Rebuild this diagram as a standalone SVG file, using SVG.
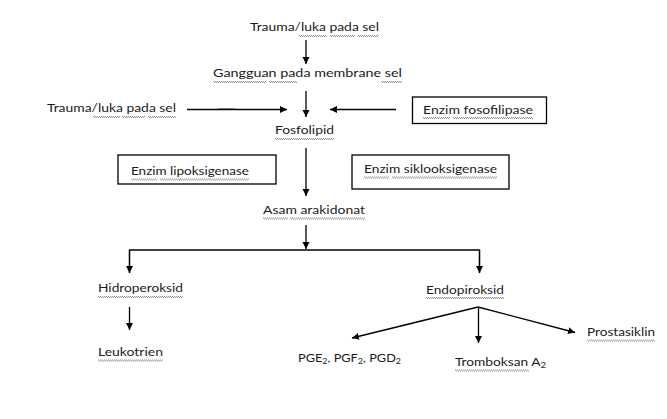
<svg xmlns="http://www.w3.org/2000/svg" width="667" height="419" viewBox="0 0 667 419">
<style>
  text { font-family: Lato, "Noto Sans", "Liberation Sans", sans-serif; font-size: 11.5px; fill: #1a1a1a; }
  .sub { font-size: 8px; }
  .box { fill: #fff; stroke: #000; stroke-width: 1.3; }
  .ln { stroke: #000; stroke-width: 1.3; fill: none; }
  .arr { marker-end: url(#ah); }
  .sqa { stroke: #8a8a8a; stroke-width: 1; stroke-dasharray: 1 1; }
  .sqb { stroke: #8a8a8a; stroke-width: 1; stroke-dasharray: 1 1; stroke-dashoffset: 1; }
</style>
<defs>
  <marker id="ah" markerUnits="userSpaceOnUse" markerWidth="8" markerHeight="8" refX="7" refY="3.5" orient="auto">
    <path d="M0,0 L7,3.5 L0,7 z" fill="#000"/>
  </marker>
</defs>
<rect width="667" height="419" fill="#fff"/>

<g id="connectors">
  <line class="ln arr" x1="306" y1="40" x2="306" y2="64"/>
  <line class="ln arr" x1="306" y1="91" x2="306" y2="117"/>
  <line class="ln arr" x1="187" y1="109.5" x2="287" y2="109.5"/>
  <line class="ln" x1="218" y1="109.3" x2="235" y2="109.3" stroke-width="2.6"/>
  <line class="ln arr" x1="396" y1="109.5" x2="330" y2="109.5"/>
  <line class="ln arr" x1="306" y1="148" x2="306" y2="196"/>
  <line class="ln arr" x1="306" y1="225" x2="306" y2="249"/>
  <polyline class="ln" points="129.5,273 129.5,250 479.5,250 479.5,273"/>
  <line class="ln arr" x1="129.5" y1="250" x2="129.5" y2="273"/>
  <line class="ln arr" x1="479.5" y1="250" x2="479.5" y2="273"/>
  <line class="ln arr" x1="129.5" y1="307" x2="129.5" y2="330"/>
  <line class="ln arr" x1="478" y1="307" x2="352" y2="338"/>
  <line class="ln arr" x1="478.5" y1="307" x2="478.5" y2="343"/>
  <line class="ln arr" x1="478" y1="307" x2="575" y2="332.5"/>
</g>

<g id="n-trauma-top">
  <text x="250" y="31" textLength="129" lengthAdjust="spacingAndGlyphs">Trauma/luka pada sel</text>
  <line class="sqa" x1="299" y1="35.5" x2="327" y2="35.5"/><line class="sqb" x1="299" y1="36.5" x2="327" y2="36.5"/>
  <line class="sqa" x1="330" y1="35.5" x2="355" y2="35.5"/><line class="sqb" x1="330" y1="36.5" x2="355" y2="36.5"/>
  <line class="sqa" x1="358" y1="35.5" x2="379" y2="35.5"/><line class="sqb" x1="358" y1="36.5" x2="379" y2="36.5"/>
</g>

<g id="n-gangguan">
  <text x="213" y="77" textLength="189" lengthAdjust="spacingAndGlyphs">Gangguan pada membrane sel</text>
  <line class="sqa" x1="213" y1="81.5" x2="266" y2="81.5"/><line class="sqb" x1="213" y1="82.5" x2="266" y2="82.5"/>
  <line class="sqa" x1="269" y1="81.5" x2="297" y2="81.5"/><line class="sqb" x1="269" y1="82.5" x2="297" y2="82.5"/>
  <line class="sqa" x1="381" y1="81.5" x2="402" y2="81.5"/><line class="sqb" x1="381" y1="82.5" x2="402" y2="82.5"/>
</g>

<g id="n-trauma-left">
  <text x="47" y="112" textLength="129" lengthAdjust="spacingAndGlyphs">Trauma/luka pada sel</text>
  <line class="sqa" x1="93" y1="116.5" x2="120" y2="116.5"/><line class="sqb" x1="93" y1="117.5" x2="120" y2="117.5"/>
  <line class="sqa" x1="122" y1="116.5" x2="145" y2="116.5"/><line class="sqb" x1="122" y1="117.5" x2="145" y2="117.5"/>
  <line class="sqa" x1="148" y1="116.5" x2="176" y2="116.5"/><line class="sqb" x1="148" y1="117.5" x2="176" y2="117.5"/>
</g>

<g id="n-fosfolipase">
  <rect class="box" x="412.5" y="97" width="134" height="26.5"/>
  <text x="423" y="113.5" textLength="110" lengthAdjust="spacingAndGlyphs">Enzim fosofilipase</text>
  <line class="sqa" x1="423" y1="117.5" x2="450" y2="117.5"/><line class="sqb" x1="423" y1="118.5" x2="450" y2="118.5"/>
  <line class="sqa" x1="453" y1="117.5" x2="533" y2="117.5"/><line class="sqb" x1="453" y1="118.5" x2="533" y2="118.5"/>
</g>

<g id="n-fosfolipid">
  <text x="275" y="134" textLength="59" lengthAdjust="spacingAndGlyphs">Fosfolipid</text>
  <line class="sqa" x1="275" y1="138.5" x2="334" y2="138.5"/><line class="sqb" x1="275" y1="139.5" x2="334" y2="139.5"/>
</g>

<g id="n-lipoksigenase">
  <rect class="box" x="118" y="155" width="158" height="29"/>
  <text x="131" y="175" textLength="118" lengthAdjust="spacingAndGlyphs">Enzim lipoksigenase</text>
  <line class="sqa" x1="131" y1="179" x2="157" y2="179"/><line class="sqb" x1="131" y1="180" x2="157" y2="180"/>
  <line class="sqa" x1="160" y1="179" x2="249" y2="179"/><line class="sqb" x1="160" y1="180" x2="249" y2="180"/>
</g>

<g id="n-siklooksigenase">
  <rect class="box" x="352" y="155" width="157" height="34"/>
  <text x="364" y="173" textLength="133" lengthAdjust="spacingAndGlyphs">Enzim siklooksigenase</text>
  <line class="sqa" x1="364" y1="177" x2="389" y2="177"/><line class="sqb" x1="364" y1="178" x2="389" y2="178"/>
  <line class="sqa" x1="392" y1="177" x2="497" y2="177"/><line class="sqb" x1="392" y1="178" x2="497" y2="178"/>
</g>

<g id="n-asam">
  <text x="263" y="214" textLength="102" lengthAdjust="spacingAndGlyphs">Asam arakidonat</text>
  <line class="sqa" x1="263" y1="218" x2="288" y2="218"/><line class="sqb" x1="263" y1="219" x2="288" y2="219"/>
  <line class="sqa" x1="290" y1="218" x2="365" y2="218"/><line class="sqb" x1="290" y1="219" x2="365" y2="219"/>
</g>

<g id="n-hidroperoksid">
  <text x="98" y="292" textLength="85" lengthAdjust="spacingAndGlyphs">Hidroperoksid</text>
  <line class="sqa" x1="98" y1="296.5" x2="183" y2="296.5"/><line class="sqb" x1="98" y1="297.5" x2="183" y2="297.5"/>
</g>

<g id="n-endopiroksid">
  <text x="426" y="294" textLength="78" lengthAdjust="spacingAndGlyphs">Endopiroksid</text>
  <line class="sqa" x1="426" y1="297.5" x2="504" y2="297.5"/><line class="sqb" x1="426" y1="298.5" x2="504" y2="298.5"/>
</g>

<g id="n-leukotrien">
  <text x="98" y="356" textLength="65" lengthAdjust="spacingAndGlyphs">Leukotrien</text>
  <line class="sqa" x1="98" y1="360" x2="163" y2="360"/><line class="sqb" x1="98" y1="361" x2="163" y2="361"/>
</g>

<g id="n-pge">
  <text x="298" y="362" textLength="103" lengthAdjust="spacingAndGlyphs">PGE<tspan class="sub" dy="2">2</tspan><tspan dy="-2">, PGF</tspan><tspan class="sub" dy="2">2</tspan><tspan dy="-2">, PGD</tspan><tspan class="sub" dy="2">2</tspan></text>
</g>

<g id="n-tromboksan">
  <text x="455" y="366" textLength="91" lengthAdjust="spacingAndGlyphs">Tromboksan A<tspan class="sub" dy="2">2</tspan></text>
  <line class="sqa" x1="455" y1="370" x2="529" y2="370"/><line class="sqb" x1="455" y1="371" x2="529" y2="371"/>
</g>

<g id="n-prostasiklin">
  <text x="587" y="336" textLength="68" lengthAdjust="spacingAndGlyphs">Prostasiklin</text>
  <line class="sqa" x1="587" y1="340" x2="655" y2="340"/><line class="sqb" x1="587" y1="341" x2="655" y2="341"/>
</g>
</svg>
